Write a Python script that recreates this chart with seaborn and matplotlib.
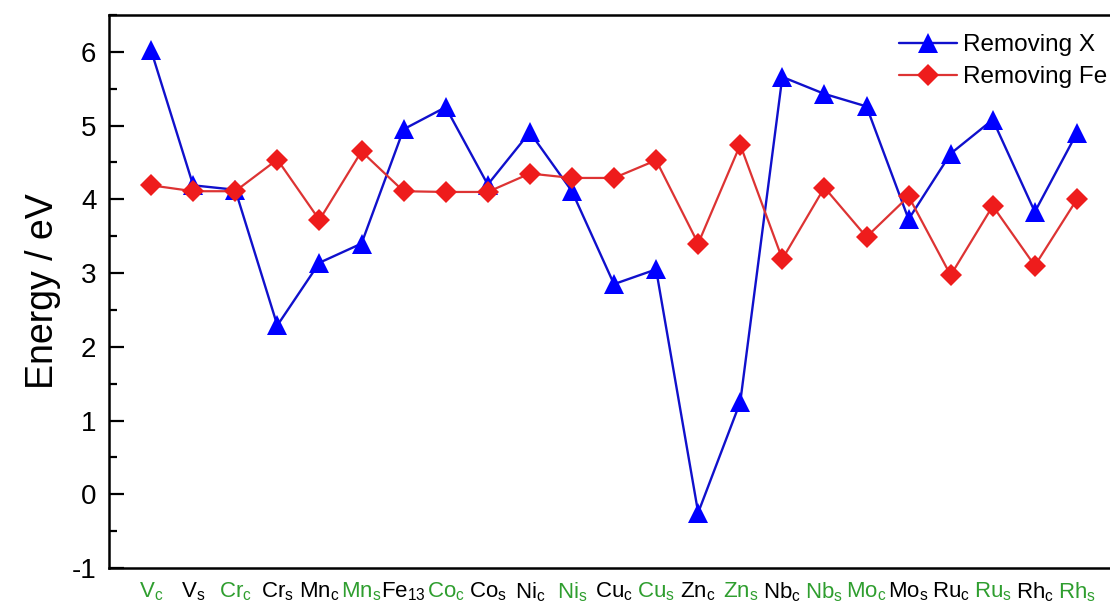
import numpy as np
import pandas as pd
import matplotlib
matplotlib.use('Agg')
import matplotlib.pyplot as plt
import seaborn as sns
from matplotlib.ticker import MultipleLocator

sns.set_style('ticks')
plt.rcParams['font.family'] = ['Liberation Sans', 'DejaVu Sans']
plt.rcParams['mathtext.fontset'] = 'custom'
plt.rcParams['mathtext.rm'] = 'Liberation Sans'
plt.rcParams['axes.unicode_minus'] = False
plt.rcParams['text.color'] = 'black'
plt.rcParams['axes.labelcolor'] = 'black'
plt.rcParams['xtick.color'] = 'black'
plt.rcParams['ytick.color'] = 'black'
plt.rcParams['axes.edgecolor'] = 'black'

# site labels: element + subscript, and whether it is drawn green
elements = ['V', 'V', 'Cr', 'Cr', 'Mn', 'Mn', 'Fe', 'Co', 'Co', 'Ni', 'Ni', 'Cu',
            'Cu', 'Zn', 'Zn', 'Nb', 'Nb', 'Mo', 'Mo', 'Ru', 'Ru', 'Rh', 'Rh']
subs = ['c', 's', 'c', 's', 'c', 's', '13', 'c', 's', 'c', 's', 'c',
        's', 'c', 's', 'c', 's', 'c', 's', 'c', 's', 'c', 's']
green = [1, 0, 1, 0, 0, 1, 0, 1, 0, 0, 1, 0,
         1, 0, 1, 0, 1, 1, 0, 0, 1, 0, 1]

removing_x = [6.02, 4.19, 4.13, 2.29, 3.14, 3.40, 4.95, 5.25, 4.20, 4.91, 4.11, 2.85,
              3.05, -0.25, 1.25, 5.66, 5.43, 5.26, 3.73, 4.62, 5.08, 3.83, 4.90]
removing_fe = [4.19, 4.11, 4.11, 4.54, 3.72, 4.65, 4.11, 4.10, 4.10, 4.35, 4.29, 4.29,
               4.53, 3.40, 4.74, 3.19, 4.16, 3.49, 4.04, 2.97, 3.91, 3.10, 4.00]

labels = [r'$\mathregular{%s_{%s}}$' % (e, s) for e, s in zip(elements, subs)]
df = pd.DataFrame({'pos': np.arange(len(labels)),
                   'Removing X': removing_x,
                   'Removing Fe': removing_fe})

fig = plt.figure(figsize=(11.1, 6.06), dpi=100)
ax = fig.add_axes([109 / 1110, 1 - 568 / 606, 1010 / 1110, (568 - 15) / 606])

sns.lineplot(data=df, x='pos', y='Removing X', ax=ax, color='#1010cc', lw=1.7,
             marker='^', markersize=14, markerfacecolor='#0000ff',
             markeredgecolor='#0000ff', markeredgewidth=0, label='Removing X')
sns.lineplot(data=df, x='pos', y='Removing Fe', ax=ax, color='#dd3333', lw=1.6,
             marker='D', markersize=11, markerfacecolor='#ee1c1c',
             markeredgecolor='#ee1c1c', markeredgewidth=0, label='Removing Fe')

ax.set_xlim(-1, 23)
ax.set_ylim(-1, 6.5)
ax.yaxis.set_major_locator(MultipleLocator(1))
ax.yaxis.set_minor_locator(MultipleLocator(0.5))
ax.tick_params(axis='y', which='major', direction='in', length=11, width=1.6,
               labelsize=20, pad=9)
ax.tick_params(axis='y', which='minor', direction='in', length=6, width=1.6)
ax.set_xticks(df['pos'])
ax.set_xticklabels(labels, fontsize=16)
ax.tick_params(axis='x', length=0, pad=9)
for lab, g in zip(ax.get_xticklabels(), green):
    lab.set_color('#2f9e2f' if g else 'black')
for sp in ax.spines.values():
    sp.set_linewidth(1.8)
    sp.set_visible(True)

ax.set_xlabel('')
ax.set_ylabel('Energy / eV', fontsize=27, labelpad=8)

ax.legend(loc='upper left', bbox_to_anchor=(899 / 1110, 1 - 34 / 606),
          bbox_transform=fig.transFigure, frameon=False, fontsize=17.5,
          handlelength=2.4, handletextpad=0.25, labelspacing=0.42,
          borderpad=0, borderaxespad=0)

fig.savefig('out.png', dpi=100)
